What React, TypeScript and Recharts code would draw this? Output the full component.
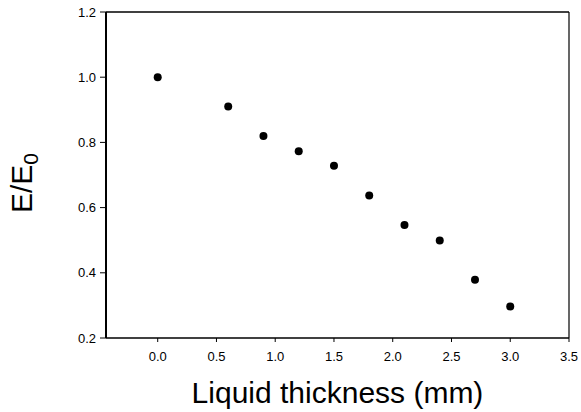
import React from "react";
import { ScatterChart, Scatter, XAxis, YAxis, ReferenceLine } from "recharts";

const thickness = [0, 0.6, 0.9, 1.2, 1.5, 1.8, 2.1, 2.4, 2.7, 3.0];
const ratio = [1.0, 0.91, 0.82, 0.773, 0.728, 0.637, 0.547, 0.499, 0.379, 0.297];
const xTicks = [0, 0.5, 1.0, 1.5, 2.0, 2.5, 3.0, 3.5];
const yTicks = [0.2, 0.4, 0.6, 0.8, 1.0, 1.2];

const data = thickness.map((t, i) => ({ x: t, y: ratio[i] }));

const FONT = "'Liberation Sans', Arial, sans-serif";

const XLabel = (props: any) => {
  const { viewBox } = props;
  const cx = viewBox.x + viewBox.width / 2;
  return (
    <text x={cx} y={viewBox.y + 65} textAnchor="middle" fontFamily={FONT} fontSize={30} fill="#000">
      Liquid thickness (mm)
    </text>
  );
};

const YLabel = (props: any) => {
  const { viewBox } = props;
  const cy = viewBox.y + viewBox.height / 2 + 8;
  const x = 32;
  return (
    <text x={x} y={cy} transform={`rotate(-90, ${x}, ${cy})`} textAnchor="middle" fontFamily={FONT} fontSize={30} fill="#000">
      <tspan>E/E</tspan>
      <tspan fontSize={21} dy={6}>0</tspan>
    </text>
  );
};

const Dot = (props: any) => <circle cx={props.cx} cy={props.cy} r={4} fill="#000" />;

export default function App() {
  return (
    <div style={{ position: "absolute", left: 0, top: 0 }}>
      <ScatterChart width={581} height={412} margin={{ top: 12, right: 12, bottom: 0, left: 0 }}>
        <XAxis
          type="number"
          dataKey="x"
          domain={[-0.44, 3.5]}
          ticks={xTicks}
          tickFormatter={(v: number) => v.toFixed(1)}
          tick={{ fill: "#000", fontSize: 13, fontFamily: FONT }}
          tickSize={4}
          tickMargin={10}
          height={74}
          axisLine={{ stroke: "#000", strokeWidth: 1.5 }}
          tickLine={{ stroke: "#000" }}
          label={<XLabel />}
        />
        <YAxis
          type="number"
          dataKey="y"
          domain={[0.2, 1.2]}
          ticks={yTicks}
          tickFormatter={(v: number) => v.toFixed(1)}
          tick={{ fill: "#000", fontSize: 13, fontFamily: FONT }}
          tickSize={6}
          tickMargin={4}
          width={106}
          axisLine={{ stroke: "#000", strokeWidth: 2 }}
          tickLine={{ stroke: "#000" }}
          label={<YLabel />}
        />
        <ReferenceLine y={1.2} stroke="#000" strokeWidth={1.5} />
        <ReferenceLine x={3.5} stroke="#000" strokeWidth={1.2} />
        <Scatter data={data} fill="#000" shape={<Dot />} isAnimationActive={false} />
      </ScatterChart>
    </div>
  );
}
